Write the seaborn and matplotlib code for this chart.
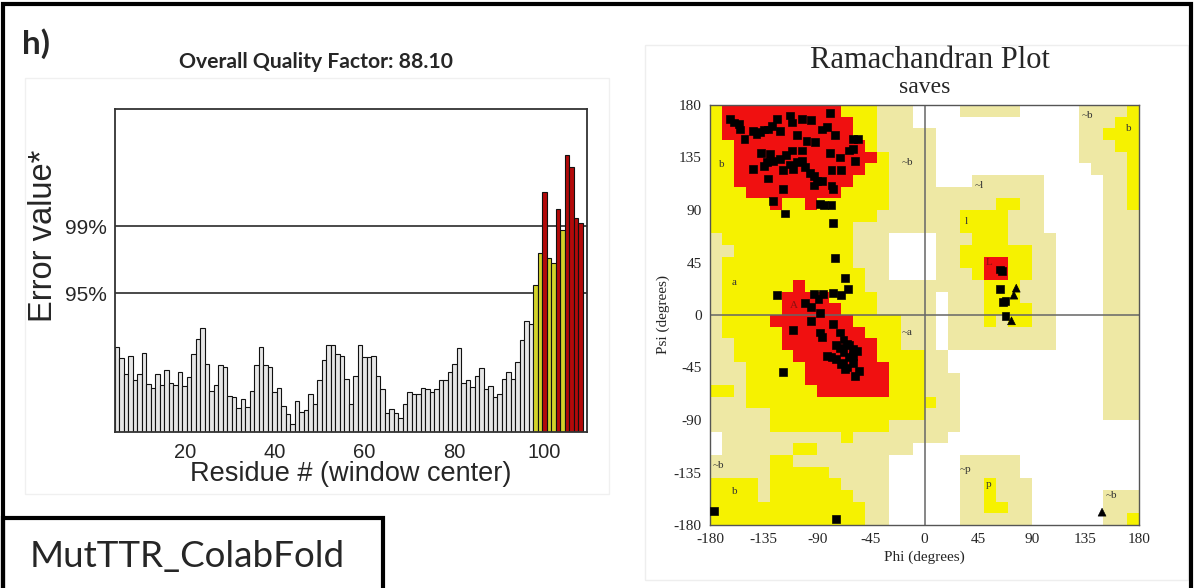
import numpy as np
import pandas as pd
import matplotlib
matplotlib.use("Agg")
import matplotlib.pyplot as plt
import seaborn as sns
from matplotlib.colors import ListedColormap
from matplotlib.patches import Rectangle

# ---------------- data: ERRAT bars ----------------
residues = list(range(5, 109))
error_values = [
    7.11, 6.19, 4.88, 6.33, 4.38, 4.88, 6.64, 4.04, 3.68, 4.88,
    3.96, 5.22, 4.10, 3.96, 5.02, 3.85, 4.60, 6.50, 7.81, 8.73,
    5.66, 3.40, 3.96, 5.63, 5.44, 3.01, 2.93, 2.04, 2.73, 2.09,
    3.40, 5.58, 7.11, 5.58, 5.44, 3.35, 3.68, 2.15, 1.48, 0.70,
    2.59, 1.67, 1.87, 3.15, 2.37, 4.32, 6.05, 7.31, 7.31, 6.56,
    6.36, 4.41, 2.37, 4.66, 7.31, 6.28, 6.28, 6.36, 4.69, 3.63,
    1.59, 1.90, 1.59, 1.20, 2.37, 3.35, 3.15, 3.21, 3.71, 3.63,
    3.35, 3.63, 4.32, 4.32, 5.02, 5.72, 7.03,
    4.10, 4.33, 3.80, 4.69, 5.35, 3.60, 3.84, 2.90, 3.18, 4.41,
    5.05, 4.44, 5.89, 7.70, 9.25, 9.04,
    12.29, 14.97, 20.07, 14.55, 14.13, 18.65, 16.89, 23.16, 22.16, 17.89, 17.47,
]
limit_95 = 11.613
limit_99 = 17.19
x_tick_labels = ["", "20", "", "40", "", "60", "", "80", "", "100"]
quality_title = "Overall Quality Factor: 88.10"

# ---------------- data: Ramachandran regions (10 deg grid, rows psi 180 -> -180) ----------------
region_rows = [
    "y1 r10 y3 g3 .4 g5 .5 g4 y1",
    "y1 r11 y2 g3 .14 g3 y2",
    "y1 r11 y2 g5 .12 g2 y3",
    "y2 r11 y1 g5 .12 g3 y2",
    "y2 r12 y1 g4 .12 g4 y1",
    "y2 r11 y2 g4 .13 g3 y1",
    "y2 r10 y3 g4 .3 g6 .5 g2 y1",
    "y3 r8 y4 g13 .5 g2 y1",
    "y5 r1 y2 r1 y6 g4 g5 y2 g2 .5 g2 y1",
    "y14 g5 g2 y4 g3 .5 g3",
    "y12 g9 y4 g3 .5 g3",
    "g1 y11 g3 .4 g3 y3 g4 .4 g3",
    "g2 y10 g3 .4 g2 y6 g2 .4 g3",
    "g1 y11 g3 .4 g2 y2 r2 y2 g2 .4 g3",
    "g1 y12 g2 .4 g3 y1 r2 y2 g2 .4 g3",
    "g1 y6 r1 y5 g6 g4 y3 g3 .4 g3",
    "g1 y5 r4 y4 g5 .1 g3 y3 g3 .4 g3",
    "g1 y5 r5 y3 g5 .1 g3 y4 g2 .4 g3",
    "g1 y4 r7 y4 g3 .1 g3 y1 g1 y2 g2 .4 g3",
    "g1 y5 r7 y3 g3 .1 g9 .4 g3",
    "g2 y4 r8 y2 g3 .1 g9 .4 g3",
    "g2 y5 r7 y4 g2 .13 g3",
    "g3 y5 r7 y3 g2 .13 g3",
    "g3 y5 r7 y3 g3 .12 g3",
    "y2 g1 y6 r6 y3 g3 .12 g3",
    "g3 y16 g2 .12 g3",
    "g5 y13 g3 .12 g3",
    "g5 y10 g6 .15",
    ".1 g10 y1 g8 .16",
    ".1 g6 y2 g8 .19",
    "g5 y2 g8 .6 g5 .10",
    "g5 y5 g5 .6 g5 .10",
    "y4 g1 y6 g4 .6 g2 y1 g3 .9",
    "y4 g1 y7 g3 .6 g2 y1 g3 .6 g3",
    "y13 g2 .6 g2 y2 g2 .6 g3",
    "y13 g2 .6 g6 .6 g2 y1",
]
region_labels = [
    ("b", -170, 129), ("a", -160, 28), ("A", -110, 8), ("~b", -14, 131),
    ("~a", -15, -15), ("~l", 46, 111), ("l", 35, 80), ("L", 54, 45),
    ("~b", 137, 171), ("b", 171, 160), ("~p", 34, -132), ("p", 54, -145),
    ("~b", 157, -155), ("~b", -173, -129), ("b", -159, -151),
]

# residues (squares) and glycines (triangles)
phi_res = [-163, -160, -156, -155, -151, -144, -141, -138, -135, -131, -128, -124, -121,
           -113, -111, -107, -103, -95, -79, -82, -86, -75, -60, -56, -63, -60, -58, -71,
           -79, -99, -92, -103, -111, -116, -121, -127, -132, -135, -130, -137, -144, -131,
           -119, -113, -110, -107, -103, -100, -96, -93, -90, -93, -86, -78, -78, -77, -70,
           -119, -127, -117, -88, -84, -78, -77, -75, -67, -64, -70, -85, -89, -95, -88, -124,
           -93, -77,
           -110, -88, -86, -77, -71, -68, -65, -63, -60, -57, -68, -71, -74, -82, -78, -74,
           -68, -63, -60, -67, -58, -119, -100, -95, -65, -60, -70, -55,
           -74, -177, 63, 65, 63, 66, 68, 68]
psi_res = [168, 165, 164, 159, 151, 158, 155, 157, 159, 159, 162, 168, 158,
           171, 165, 154, 168, 167, 173, 161, 159, 154, 151, 151, 141, 142, 132, 135,
           139, 149, 148, 141, 141, 137, 134, 132, 131, 128, 138, 139, 125, 117,
           124, 129, 125, 131, 132, 127, 122, 119, 115, 111, 115, 124, 111, 108, 124,
           108, 98, 87, 95, 94, 94, 79, 49, 32, 22, 17, 18, 14, 7, 2, 17,
           18, 19,
           -13, -15, -19, -8, -15, -21, -25, -26, -29, -31, -32, -28, -26, -35, -36, -38,
           -41, -36, -41, -46, -52, -49, 10, -5, -45, -35, -42, -48,
           -175, -168, 39, 38, 22, 11, 12, -1]
phi_gly = [77, 75, 73, 149]
psi_gly = [23, 17, -5, -169]

# ---------------- figure ----------------
W, H = 1195, 588
fig = plt.figure(figsize=(W / 100, H / 100), dpi=100)
sns.set_style("white")
plt.rcParams["font.family"] = ["Liberation Sans", "DejaVu Sans"]


def fx(px):
    return px / W


def fy(py):
    return 1 - py / H


# ---- ERRAT bar chart ----
ax1 = fig.add_axes([fx(115), fy(432), fx(587) - fx(115), fy(109) - fy(432)])
levels = ["err" if v > limit_99 else ("warn" if v > limit_95 else "ok") for v in error_values]
df = pd.DataFrame({"residue": residues, "error": error_values, "level": levels})
ax1.axhline(limit_95, color="#3a3a3a", lw=1.3, zorder=0.5)
ax1.axhline(limit_99, color="#3a3a3a", lw=1.3, zorder=0.5)
sns.barplot(data=df, x="residue", y="error", hue="level",
            palette={"ok": "#e6e6e6", "warn": "#d2d22a", "err": "#b30a0a"},
            native_scale=True, width=1, dodge=False, legend=False,
            edgecolor="#111111", linewidth=0.8, saturation=1, ax=ax1)
ax1.set_xlim(4.5, 109.5)
ax1.set_ylim(0, 27.0)
ax1.set_xticks(range(10, 101, 10))
ax1.set_xticklabels(x_tick_labels, fontsize=14.5)
ax1.set_xticks(range(5, 110), minor=True)
ax1.set_yticks([limit_95, limit_99])
ax1.set_yticklabels(["95%", "99%"], fontsize=15)
ax1.tick_params(axis="x", which="major", direction="out", length=6, width=1, color="#222", pad=2)
ax1.tick_params(axis="x", which="minor", direction="out", length=3, width=0.8, color="#222")
ax1.tick_params(axis="y", direction="out", length=3, color="#222", pad=3)
ax1.set_xlabel("Residue # (window center)", fontsize=19.5, labelpad=-1)
ax1.set_ylabel("Error value*", fontsize=23.5)
ax1.yaxis.set_label_coords(-0.118, 0.607)
for s in ax1.spines.values():
    s.set_visible(True)
    s.set_color("#333333")
    s.set_linewidth(1.3)

# ---- Ramachandran plot ----
code_map = {".": 0, "g": 1, "y": 2, "r": 3}
grid = []
for row in region_rows:
    cells = []
    for tok in row.split():
        cells += [code_map[tok[0]]] * int(tok[1:])
    cells = (cells + [0] * 36)[:36]
    grid.append(cells)
grid = np.array(grid[::-1])
edges = np.arange(-180, 181, 10)
ax2 = fig.add_axes([fx(710), fy(525), fx(1139) - fx(710), fy(105) - fy(525)])
cmap = ListedColormap(["#ffffff", "#eee8a4", "#f6f200", "#f01010"])
ax2.pcolormesh(edges, edges, grid, cmap=cmap, vmin=-0.5, vmax=3.5, shading="flat", zorder=0)
ax2.axhline(0, color="#666666", lw=1.1, zorder=1)
ax2.axvline(0, color="#666666", lw=1.1, zorder=1)
pts = pd.DataFrame({
    "phi": phi_res + phi_gly,
    "psi": psi_res + psi_gly,
    "kind": ["res"] * len(phi_res) + ["gly"] * len(phi_gly),
})
sns.scatterplot(data=pts, x="phi", y="psi", style="kind", markers={"res": "s", "gly": "^"},
                color="black", edgecolor="black", s=32, legend=False, ax=ax2, zorder=3)
for txt, ph, ps in region_labels:
    ax2.text(ph, ps, txt, fontsize=8, family="Liberation Serif", ha="center", va="center",
             color="#8a1010" if txt in ("A", "L") else "#333333", zorder=2)
ax2.set_xlim(-180, 180)
ax2.set_ylim(-180, 180)
ticks = list(range(-180, 181, 45))
ax2.set_xticks(ticks)
ax2.set_yticks(ticks)
ax2.set_xticklabels([str(t) for t in ticks], family="Liberation Serif", fontsize=11)
ax2.set_yticklabels([str(t) for t in ticks], family="Liberation Serif", fontsize=11)
ax2.tick_params(direction="out", length=4, color="#444", pad=2)
ax2.set_xlabel("Phi (degrees)", family="Liberation Serif", fontsize=11, labelpad=3)
ax2.set_ylabel("Psi (degrees)", family="Liberation Serif", fontsize=11, labelpad=3)
for s in ax2.spines.values():
    s.set_color("#555555")
    s.set_linewidth(1.0)

# ---- texts ----
fig.text(fx(22), fy(44), "h)", fontsize=24, fontweight="bold", family="Lato", ha="left", va="center")
fig.text(fx(316), fy(62), quality_title, fontsize=15.2, fontweight="bold", family="Lato",
         ha="center", va="center")
fig.text(fx(930), fy(60), "Ramachandran Plot", fontsize=22, family="Liberation Serif",
         ha="center", va="center")
fig.text(fx(925), fy(88), "saves", fontsize=17, family="Liberation Serif", ha="center", va="center")
fig.text(fx(30), fy(556), "MutTTR_ColabFold", fontsize=26.5, family="Lato", ha="left", va="center")

# ---- frames ----
fig.add_artist(Rectangle((fx(25), fy(494)), fx(609) - fx(25), fy(78) - fy(494),
                         transform=fig.transFigure, fill=False, ec="#f0f0f0", lw=1))
fig.add_artist(Rectangle((fx(645), fy(580)), fx(1188) - fx(645), fy(45) - fy(580),
                         transform=fig.transFigure, fill=False, ec="#eeeeee", lw=1))
fig.add_artist(Rectangle((fx(3), fy(592)), fx(1191) - fx(3), fy(4) - fy(592),
                         transform=fig.transFigure, fill=False, ec="black", lw=3))
fig.add_artist(Rectangle((fx(3), fy(592)), fx(383) - fx(3), fy(518) - fy(592),
                         transform=fig.transFigure, fill=False, ec="black", lw=3))

fig.savefig("out.png", dpi=100)
